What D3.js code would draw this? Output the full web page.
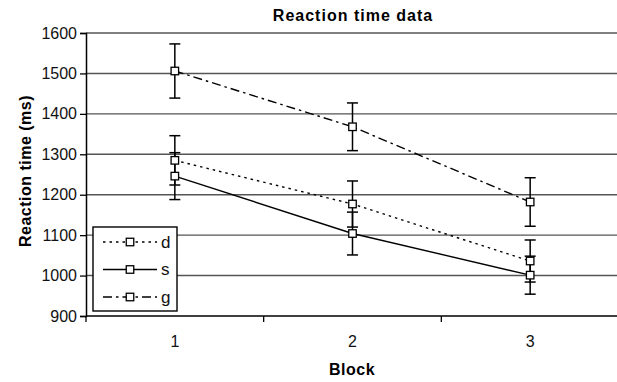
<!DOCTYPE html>
<html><head><meta charset="utf-8">
<script src="https://cdn.jsdelivr.net/npm/d3@7"></script>
<style>body{margin:0;background:#fff}svg{display:block;font-family:"Liberation Sans",Arial,sans-serif}</style>
</head><body><svg id="c" width="617" height="382"></svg>
<script>
const blocks = ["1","2","3"];
const seriesNames = ["d","s","g"];
const dMeans = [1285, 1177, 1036];
const dErr   = [61, 57, 52];
const sMeans = [1246, 1104, 1001];
const sErr   = [58, 53, 47];
const gMeans = [1506, 1368, 1182];
const gErr   = [67, 59, 60];
const yTicks = [900,1000,1100,1200,1300,1400,1500,1600];

const series = [
  {name:"d", means:dMeans, err:dErr, dash:"2.5,4"},
  {name:"s", means:sMeans, err:sErr, dash:null},
  {name:"g", means:gMeans, err:gErr, dash:"9,4,2.5,4"}
];

const svg = d3.select("#c");
const L=86, R=619, T=33, B=316;
const x = d3.scaleBand().domain(blocks).range([L,R]);
const y = d3.scaleLinear().domain([900,1600]).range([B,T]);

// gridlines
svg.append("g").selectAll("line").data(yTicks.filter(v=>v>900)).join("line")
  .attr("x1",L).attr("x2",617).attr("y1",d=>y(d)).attr("y2",d=>y(d))
  .attr("stroke","#555").attr("stroke-width",1.4);

// y axis
const ya = svg.append("g").attr("transform",`translate(${L},0)`)
  .call(d3.axisLeft(y).tickValues(yTicks).tickSize(6).tickPadding(3).tickFormat(d3.format("d")));
ya.select(".domain").attr("stroke","#000").attr("stroke-width",1.5);
ya.selectAll(".tick line").attr("stroke","#000").attr("stroke-width",1.3);
ya.selectAll("text").attr("font-size",16).attr("fill","#111").attr("font-family","Liberation Sans, Arial, sans-serif");

// x axis
const xa = svg.append("g").attr("transform",`translate(0,${B})`);
xa.append("line").attr("x1",L).attr("x2",617).attr("stroke","#000").attr("stroke-width",1.5);
const bounds = [L, ...blocks.map(b=>x(b)+x.bandwidth())].filter(v=>v<617);
xa.selectAll("line.t").data(bounds).join("line").attr("class","t")
  .attr("x1",d=>d).attr("x2",d=>d).attr("y1",0).attr("y2",6).attr("stroke","#000").attr("stroke-width",1.3);
xa.selectAll("text").data(blocks).join("text")
  .attr("x",d=>x(d)+x.bandwidth()/2).attr("y",31).attr("text-anchor","middle")
  .attr("font-size",16).attr("fill","#111").text(d=>d);

// lines
const line = d3.line().x((d,i)=>x(blocks[i])+x.bandwidth()/2).y(d=>y(d));
series.forEach(s=>{
  svg.append("path").attr("d",line(s.means)).attr("fill","none").attr("stroke","#000")
    .attr("stroke-width",1.4).attr("stroke-dasharray",s.dash);
});
// error bars
series.forEach(s=>{
  const g = svg.append("g");
  s.means.forEach((m,i)=>{
    const cx = x(blocks[i])+x.bandwidth()/2;
    g.append("line").attr("x1",cx).attr("x2",cx).attr("y1",y(m-s.err[i])).attr("y2",y(m+s.err[i]))
      .attr("stroke","#000").attr("stroke-width",1.5);
    [m-s.err[i], m+s.err[i]].forEach(v=>{
      g.append("line").attr("x1",cx-5.5).attr("x2",cx+5.5).attr("y1",y(v)).attr("y2",y(v))
        .attr("stroke","#000").attr("stroke-width",1.5);
    });
  });
});
// markers
series.forEach(s=>{
  svg.append("g").selectAll("rect").data(s.means).join("rect")
    .attr("x",(d,i)=>x(blocks[i])+x.bandwidth()/2-3.75).attr("y",d=>y(d)-3.75)
    .attr("width",7.5).attr("height",7.5).attr("fill","#fff").attr("stroke","#000").attr("stroke-width",1.3);
});

// legend
const lg = svg.append("g");
lg.append("rect").attr("x",93).attr("y",227).attr("width",84).attr("height",84)
  .attr("fill","#fff").attr("stroke","#000").attr("stroke-width",1.4);
series.forEach((s,i)=>{
  const yy = 242 + i*27.5;
  lg.append("line").attr("x1",103).attr("x2",157).attr("y1",yy).attr("y2",yy)
    .attr("stroke","#000").attr("stroke-width",1.4).attr("stroke-dasharray",s.dash);
  lg.append("rect").attr("x",126.25).attr("y",yy-3.75).attr("width",7.5).attr("height",7.5)
    .attr("fill","#fff").attr("stroke","#000").attr("stroke-width",1.3);
  lg.append("text").attr("x",161).attr("y",yy+5.5).attr("font-size",17).attr("fill","#111").text(seriesNames[i]);
});

// titles
svg.append("text").attr("x",353).attr("y",20.5).attr("text-anchor","middle")
  .attr("font-size",16).attr("font-weight","bold").attr("letter-spacing",1).text("Reaction time data");
svg.append("text").attr("x",352).attr("y",375).attr("text-anchor","middle")
  .attr("font-size",16).attr("font-weight","bold").attr("letter-spacing",0.5).text("Block");
svg.append("text").attr("transform",`translate(31,171) rotate(-90)`).attr("text-anchor","middle")
  .attr("font-size",16).attr("font-weight","bold").attr("letter-spacing",0.5).text("Reaction time (ms)");
</script></body></html>
